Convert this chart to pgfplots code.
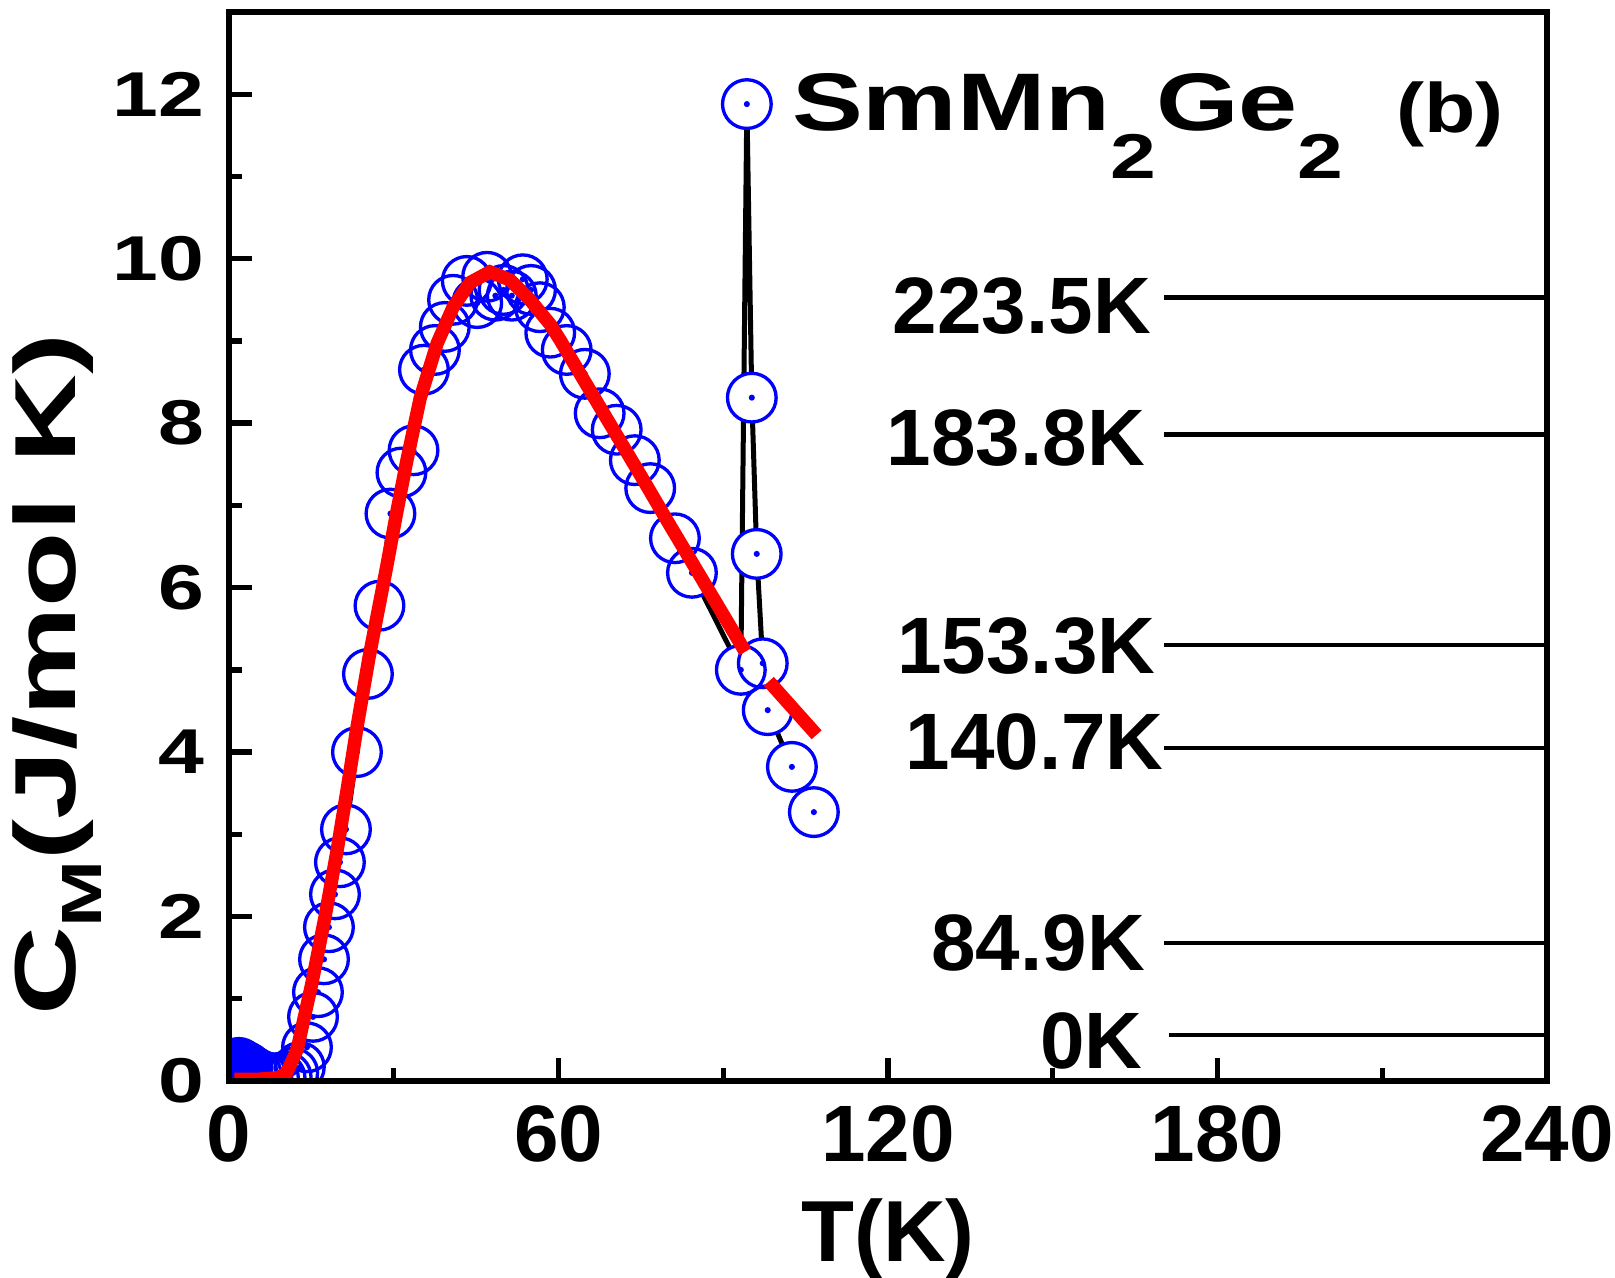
\documentclass[border=0pt]{standalone}
\usepackage{graphicx}
\usepackage{pgfplots}
\pgfplotsset{compat=1.18}
\usepackage{pgfplotstable}
\usepackage{fontspec}
\setmainfont{Liberation Sans}

\pgfplotstableread{
T C
1.8 0.22
2.2 0.20
2.6 0.19
3.0 0.17
3.4 0.16
}\lowdata

\pgfplotstableread{
T C
4.2 0.12
5.0 0.09
6.0 0.06
7.0 0.04
8.2 0.03
9.4 0.04
10.5 0.05
11.7 0.10
12.9 0.17
14.2 0.41
15.3 0.78
16.2 1.08
17.3 1.48
18.2 1.87
19.3 2.27
20.2 2.66
21.3 3.06
23.3 4.00
25.3 4.95
27.4 5.78
29.4 6.90
31.4 7.40
33.6 7.67
35.5 8.65
37.5 8.89
39.3 9.17
40.8 9.50
43.3 9.73
45.2 9.46
47.0 9.78
48.5 9.55
50.0 9.62
51.5 9.55
53.5 9.75
55.0 9.62
56.6 9.41
58.5 9.10
61.5 8.89
64.8 8.60
67.5 8.12
70.6 7.92
73.9 7.55
76.7 7.21
81.2 6.60
84.3 6.18
93.2 5.00
94.3 11.88
95.2 8.31
96.1 6.41
97.2 5.08
98.1 4.51
102.5 3.82
106.5 3.27
}\maindata

\pgfplotstableread{
T C
1.0 0.02
5.0 0.02
9.0 0.04
10.5 0.10
12.4 0.38
15.1 1.19
17.5 2.00
19.7 2.81
21.5 3.54
23.3 4.30
25.5 5.15
28.7 6.25
30.5 6.90
32.4 7.55
34.8 8.30
37.9 8.97
40.8 9.41
43.9 9.71
47.5 9.84
51.2 9.74
54.8 9.50
58.5 9.20
60.3 9.01
65.0 8.48
70.0 7.92
75.0 7.36
80.0 6.79
85.0 6.23
90.0 5.67
94.0 5.22
}\fitA

\pgfplotstableread{
T C
98.3 4.86
107.0 4.21
}\fitB

\begin{document}
\begin{tikzpicture}
\begin{axis}[
 scale only axis, width=395.4pt, height=320.7pt,
 xmin=0, xmax=240, ymin=0, ymax=13,
 xtick={0,60,...,240}, ytick={0,2,...,12},
 minor x tick num=1, minor y tick num=1,
 xtick pos=bottom, ytick pos=left, tick align=inside,
 major tick length=7pt, minor tick length=4pt,
 every tick/.style={black, line width=1.6pt},
 axis line style={line width=1.6pt},
 axis on top,
 clip marker paths=true,
 /pgf/number format/assume math mode=true,
 xticklabel style={font=\bfseries\fontsize{24}{24}\selectfont, yshift=-4pt},
 yticklabel style={font=\bfseries\fontsize{19}{19}\selectfont, xshift=-4pt},
 yticklabel={\scalebox{1.3}[1]{\pgfmathprintnumber{\tick}}},
 xlabel={T(K)},
 ylabel={\scalebox{1.42}[1]{C\raisebox{-0.3em}{\fontsize{17}{17}\selectfont M}(J/mol K)}},
 label style={font=\bfseries\fontsize{26}{26}\selectfont},
 xlabel style={at={(rel axis cs:0.5,-0.148)}, anchor=center},
 ylabel style={at={(rel axis cs:-0.1305,0.38)}, anchor=center},
]
\coordinate (O) at (rel axis cs:0,0);
\addplot[black, line width=1.5pt, no marks] table[x=T,y=C] {\maindata};
\addplot[only marks, mark=*, mark size=7.3pt, mark options={draw=none, fill=white}] table[x=T,y=C] {\maindata};
\addplot[only marks, mark=*, mark size=7.3pt, mark options={draw=blue, fill=blue, line width=1pt}] table[x=T,y=C] {\lowdata};
\addplot[only marks, mark=o, mark size=7.3pt, mark options={draw=blue, line width=1pt}] table[x=T,y=C] {\maindata};
\addplot[only marks, mark=*, mark size=0.7pt, blue] table[x=T,y=C] {\maindata};
\addplot[red, line width=4pt, no marks] table[x=T,y=C] {\fitA};
\addplot[red, line width=4pt, no marks] table[x=T,y=C] {\fitB};

\addplot[black, line width=1.3pt, no marks] coordinates {(170.3,9.53) (240,9.53)};
\addplot[black, line width=1.3pt, no marks] coordinates {(170.3,7.86) (240,7.86)};
\addplot[black, line width=1.3pt, no marks] coordinates {(170.3,5.30) (240,5.30)};
\addplot[black, line width=1.3pt, no marks] coordinates {(170.3,4.05) (240,4.05)};
\addplot[black, line width=1.3pt, no marks] coordinates {(170.3,1.68) (240,1.68)};
\addplot[black, line width=1.3pt, no marks] coordinates {(171.2,0.56) (240,0.56)};

\node[anchor=base east, inner sep=0pt, font=\bfseries\fontsize{24}{24}\selectfont] at (axis cs:168.0,9.09) {223.5K};
\node[anchor=base east, inner sep=0pt, font=\bfseries\fontsize{24}{24}\selectfont] at (axis cs:166.9,7.49) {183.8K};
\node[anchor=base east, inner sep=0pt, font=\bfseries\fontsize{24}{24}\selectfont] at (axis cs:168.8,4.95) {153.3K};
\node[anchor=base east, inner sep=0pt, font=\bfseries\fontsize{24}{24}\selectfont] at (axis cs:170.3,3.79) {140.7K};
\node[anchor=base east, inner sep=0pt, font=\bfseries\fontsize{24}{24}\selectfont] at (axis cs:166.9,1.34) {84.9K};
\node[anchor=base east, inner sep=0pt, font=\bfseries\fontsize{24}{24}\selectfont] at (axis cs:166.5,0.15) {0K};

\node[anchor=base west, inner sep=0pt, font=\bfseries\fontsize{24.5}{24.5}\selectfont] at (axis cs:102.4,11.56) {\scalebox{1.3}[1]{SmMn\raisebox{-14.5pt}{\fontsize{19}{19}\selectfont 2}Ge\raisebox{-14.5pt}{\fontsize{19}{19}\selectfont 2}}};
\node[anchor=base west, inner sep=0pt, font=\bfseries\fontsize{21}{21}\selectfont] at (axis cs:212.4,11.53) {\scalebox{1.2}[1]{(b)}};
\end{axis}
\pgfresetboundingbox
\path[use as bounding box] (O) ++(-68.7pt,-58.8pt) rectangle ++(484.5pt,383.1pt);
\end{tikzpicture}
\end{document}
